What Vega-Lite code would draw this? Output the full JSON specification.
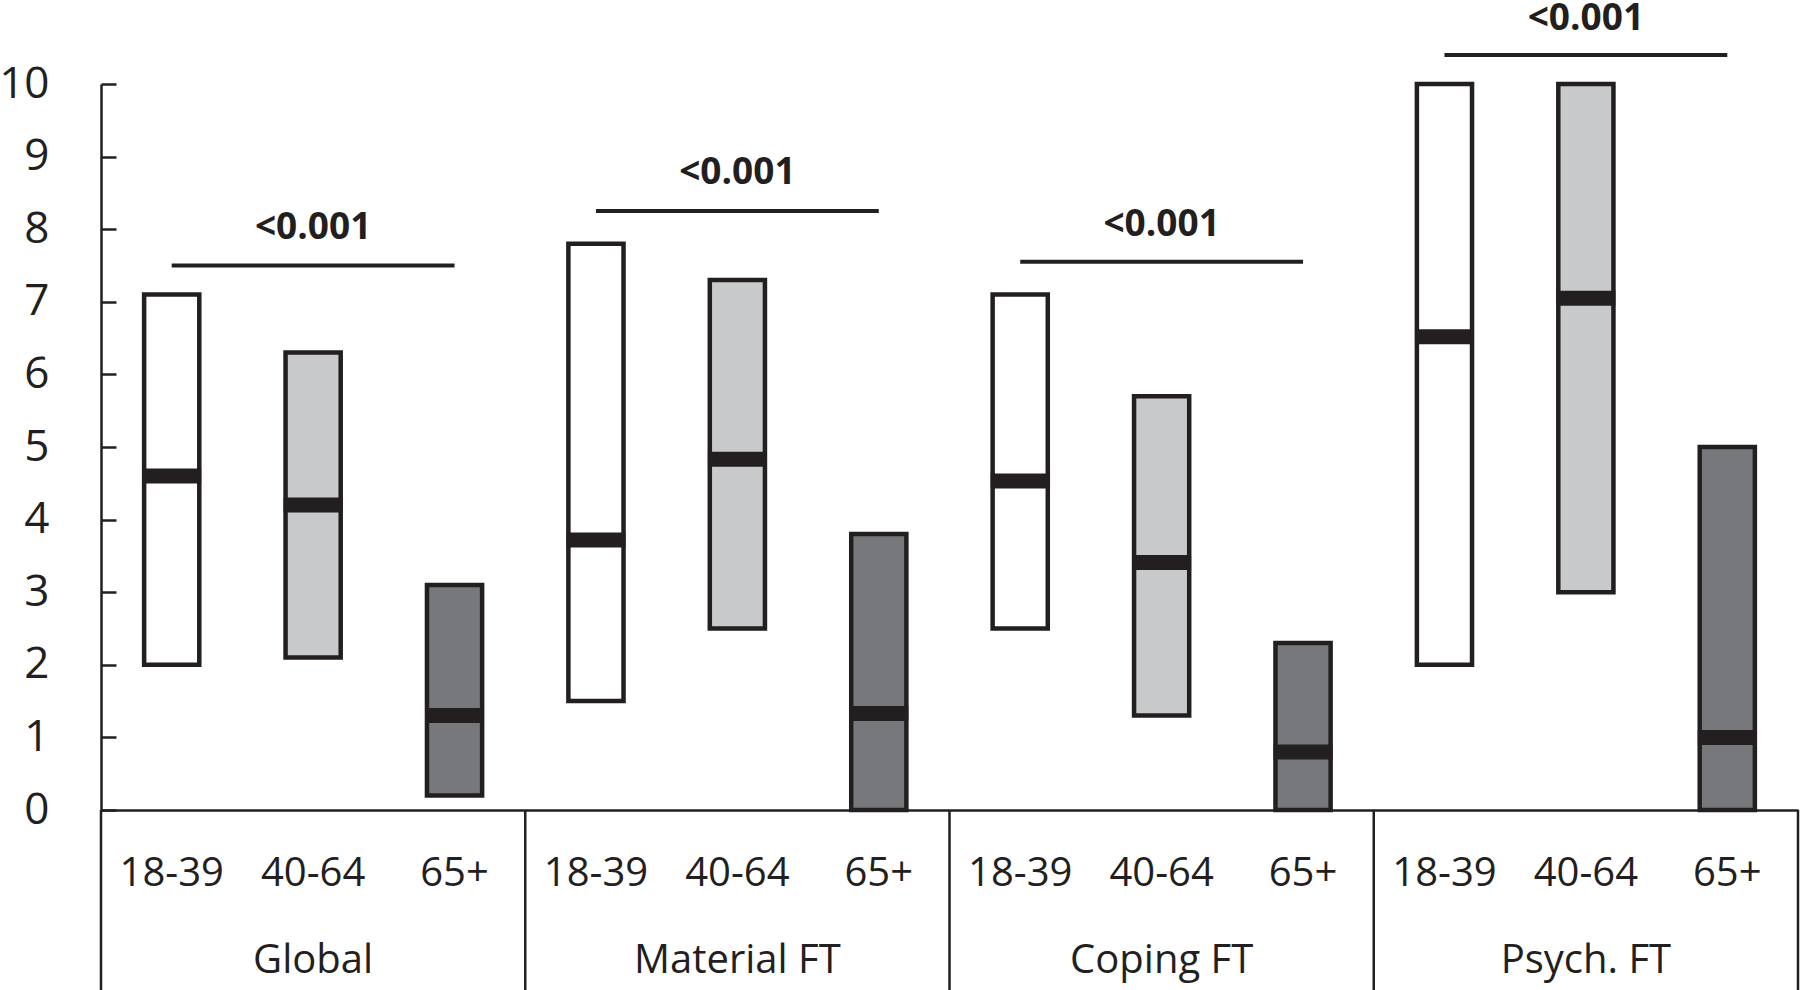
{
  "$schema": "https://vega.github.io/schema/vega-lite/v6.json",
  "width": 1697,
  "height": 726,
  "autosize": "none",
  "padding": {"left": 101, "top": 84, "right": 2, "bottom": 180},
  "background": "white",
  "config": {
    "view": {"stroke": null},
    "font": "Open Sans",
    "text": {"font": "Open Sans", "color": "#231f20"}
  },
  "datasets": {
    "boxes": [
      {"group": "Global", "age": "18-39", "key": "Global|18-39", "lo": 2.0, "hi": 7.1, "median": 4.6},
      {"group": "Global", "age": "40-64", "key": "Global|40-64", "lo": 2.1, "hi": 6.3, "median": 4.2},
      {"group": "Global", "age": "65+", "key": "Global|65+", "lo": 0.2, "hi": 3.1, "median": 1.3},
      {"group": "Material FT", "age": "18-39", "key": "Material FT|18-39", "lo": 1.5, "hi": 7.8, "median": 3.72},
      {"group": "Material FT", "age": "40-64", "key": "Material FT|40-64", "lo": 2.5, "hi": 7.3, "median": 4.83},
      {"group": "Material FT", "age": "65+", "key": "Material FT|65+", "lo": 0.0, "hi": 3.8, "median": 1.33},
      {"group": "Coping FT", "age": "18-39", "key": "Coping FT|18-39", "lo": 2.5, "hi": 7.1, "median": 4.53},
      {"group": "Coping FT", "age": "40-64", "key": "Coping FT|40-64", "lo": 1.3, "hi": 5.7, "median": 3.41},
      {"group": "Coping FT", "age": "65+", "key": "Coping FT|65+", "lo": 0.0, "hi": 2.3, "median": 0.8},
      {"group": "Psych. FT", "age": "18-39", "key": "Psych. FT|18-39", "lo": 2.0, "hi": 10.0, "median": 6.52},
      {"group": "Psych. FT", "age": "40-64", "key": "Psych. FT|40-64", "lo": 3.0, "hi": 10.0, "median": 7.05},
      {"group": "Psych. FT", "age": "65+", "key": "Psych. FT|65+", "lo": 0.0, "hi": 5.0, "median": 1.0}
    ],
    "sig": [
      {"group": "Global", "from": "Global|18-39", "to": "Global|65+", "mid": "Global|40-64", "ly": 7.5, "ty": 7.87, "p": "<0.001"},
      {"group": "Material FT", "from": "Material FT|18-39", "to": "Material FT|65+", "mid": "Material FT|40-64", "ly": 8.25, "ty": 8.62, "p": "<0.001"},
      {"group": "Coping FT", "from": "Coping FT|18-39", "to": "Coping FT|65+", "mid": "Coping FT|40-64", "ly": 7.55, "ty": 7.91, "p": "<0.001"},
      {"group": "Psych. FT", "from": "Psych. FT|18-39", "to": "Psych. FT|65+", "mid": "Psych. FT|40-64", "ly": 10.4, "ty": 10.74, "p": "<0.001"}
    ],
    "sepRight": [
      {"key": "Global|65+", "top": 0, "bottom": -2.6},
      {"key": "Material FT|65+", "top": 0, "bottom": -2.6},
      {"key": "Coping FT|65+", "top": 0, "bottom": -2.6},
      {"key": "Psych. FT|65+", "top": 0, "bottom": -2.6}
    ],
    "sepLeft": [
      {"key": "Global|18-39", "top": 0, "bottom": -2.6}
    ],
    "groups": [
      {"key": "Global|40-64", "label": "Global", "gy": -2.245},
      {"key": "Material FT|40-64", "label": "Material FT", "gy": -2.245},
      {"key": "Coping FT|40-64", "label": "Coping FT", "gy": -2.245},
      {"key": "Psych. FT|40-64", "label": "Psych. FT", "gy": -2.245}
    ]
  },
  "resolve": {"scale": {"x": "shared", "y": "shared"}},
  "layer": [
    {
      "data": {"name": "boxes"},
      "mark": {"type": "bar", "stroke": "#231f20", "strokeWidth": 4.5, "clip": false, "width": {"band": 0.39}},
      "encoding": {
        "x": {
          "field": "key", "type": "nominal",
          "scale": {
            "domain": ["Global|18-39", "Global|40-64", "Global|65+", "Material FT|18-39", "Material FT|40-64", "Material FT|65+", "Coping FT|18-39", "Coping FT|40-64", "Coping FT|65+", "Psych. FT|18-39", "Psych. FT|40-64", "Psych. FT|65+"],
            "paddingInner": 0, "paddingOuter": 0
          },
          "axis": {
            "title": null, "labelAngle": 0, "ticks": false,
            "labelExpr": "split(datum.value, '|')[1]",
            "labelFont": "Open Sans", "labelFontSize": 40, "labelColor": "#231f20",
            "labelPadding": 43, "labelBaseline": "top",
            "domain": true, "domainColor": "#231f20", "domainWidth": 2.5, "grid": false
          }
        },
        "y": {
          "field": "lo", "type": "quantitative",
          "scale": {"domain": [0, 10], "nice": false, "zero": false},
          "axis": {
            "title": null, "values": [0, 1, 2, 3, 4, 5, 6, 7, 8, 9, 10], "format": "d", "grid": false,
            "tickSize": -15, "tickWidth": 2.5, "tickColor": "#231f20",
            "domain": true, "domainColor": "#231f20", "domainWidth": 2.5,
            "labelFont": "Open Sans", "labelFontSize": 44, "labelColor": "#231f20",
            "labelPadding": 67
          }
        },
        "y2": {"field": "hi"},
        "fill": {
          "field": "age", "type": "nominal",
          "scale": {"domain": ["18-39", "40-64", "65+"], "range": ["#ffffff", "#c8c9cb", "#77787b"]},
          "legend": null
        }
      }
    },
    {
      "data": {"name": "boxes"},
      "mark": {"type": "tick", "color": "#231f20", "thickness": 15, "size": 59, "opacity": 1},
      "encoding": {
        "x": {"field": "key", "type": "nominal"},
        "y": {"field": "median", "type": "quantitative"}
      }
    },
    {
      "data": {"name": "sig"},
      "mark": {"type": "rule", "color": "#231f20", "strokeWidth": 4, "clip": false},
      "encoding": {
        "x": {"field": "from", "type": "nominal"},
        "x2": {"field": "to"},
        "y": {"field": "ly", "type": "quantitative"}
      }
    },
    {
      "data": {"name": "sig"},
      "mark": {"type": "text", "fontSize": 37, "fontWeight": "bold", "baseline": "alphabetic", "align": "center", "clip": false},
      "encoding": {
        "x": {"field": "mid", "type": "nominal"},
        "y": {"field": "ty", "type": "quantitative"},
        "text": {"field": "p"}
      }
    },
    {
      "data": {"name": "sepRight"},
      "mark": {"type": "rule", "color": "#231f20", "strokeWidth": 2.5, "clip": false},
      "encoding": {
        "x": {"field": "key", "type": "nominal", "bandPosition": 1},
        "y": {"field": "top", "type": "quantitative"},
        "y2": {"field": "bottom"}
      }
    },
    {
      "data": {"name": "sepLeft"},
      "mark": {"type": "rule", "color": "#231f20", "strokeWidth": 2.5, "clip": false},
      "encoding": {
        "x": {"field": "key", "type": "nominal", "bandPosition": 0},
        "y": {"field": "top", "type": "quantitative"},
        "y2": {"field": "bottom"}
      }
    },
    {
      "data": {"name": "groups"},
      "mark": {"type": "text", "fontSize": 40, "baseline": "alphabetic", "align": "center", "clip": false},
      "encoding": {
        "x": {"field": "key", "type": "nominal"},
        "y": {"field": "gy", "type": "quantitative"},
        "text": {"field": "label"}
      }
    }
  ]
}
